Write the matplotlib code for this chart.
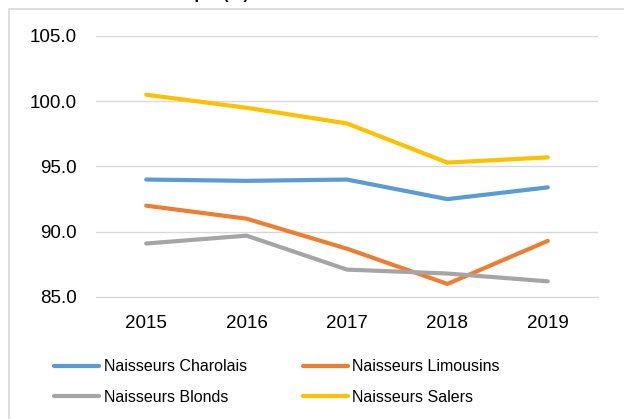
import matplotlib
matplotlib.use("Agg")
import matplotlib.pyplot as plt
from matplotlib.patches import Rectangle

# Data
years = ["2015", "2016", "2017", "2018", "2019"]
charolais = [94.0, 93.9, 94.0, 92.5, 93.4]
limousins = [92.0, 91.0, 88.7, 86.0, 89.3]
blonds = [89.1, 89.7, 87.1, 86.8, 86.2]
salers = [100.5, 99.5, 98.3, 95.3, 95.7]

series = [
    ("Naisseurs Charolais", charolais, "#5B9BD5"),
    ("Naisseurs Limousins", limousins, "#ED7D31"),
    ("Naisseurs Blonds", blonds, "#A5A5A5"),
    ("Naisseurs Salers", salers, "#FFC000"),
]

plt.rcParams['font.family'] = ['Liberation Sans', 'DejaVu Sans']

fig = plt.figure(figsize=(6.24, 4.19), dpi=100)

# chart border
fig.patches.append(Rectangle((9 / 624, -0.1), 1.2, 1 - 9 / 419 + 0.1,
                             transform=fig.transFigure, fill=False,
                             edgecolor='#D9D9D9', linewidth=1.2))

# title, mostly cut off by the top edge as in the original
fig.text(33 / 624, 1.0 - 2 / 419, "Productivité numérique (%)", fontsize=12,
         fontweight='bold', ha='left', va='bottom', color='#000000')

ax = fig.add_axes([96 / 624, 1 - 297 / 419, 502 / 624, (297 - 36) / 419])
x = list(range(len(years)))
lines = {}
for name, vals, col in series:
    lines[name], = ax.plot(x, vals, color=col, linewidth=3, label=name,
                           solid_capstyle='round')

ax.set_xlim(-0.5, len(years) - 0.5)
ax.set_ylim(85, 105)
ax.set_yticks([85, 90, 95, 100, 105])
ax.set_yticklabels([f"{v:.1f}" for v in [85, 90, 95, 100, 105]])
ax.set_xticks(x)
ax.set_xticklabels(years)
ax.tick_params(axis='both', length=0, labelsize=13.5, colors='#000000')
ax.tick_params(axis='y', pad=14)
ax.tick_params(axis='x', pad=13)
ax.grid(True, axis='y', color='#D9D9D9', linewidth=1)
ax.set_axisbelow(True)
for s in ['top', 'right', 'left']:
    ax.spines[s].set_visible(False)
ax.spines['bottom'].set_color('#D9D9D9')

# row-major order like the original legend
order = ["Naisseurs Charolais", "Naisseurs Blonds",
         "Naisseurs Limousins", "Naisseurs Salers"]
fig.legend([lines[n] for n in order], order,
           loc='upper left', bbox_to_anchor=(48 / 624, 1 - 353 / 419),
           ncol=2, frameon=False, fontsize=11.5, handlelength=2.8,
           handletextpad=0.3, columnspacing=3.5, labelspacing=0.95,
           borderaxespad=0)

fig.savefig("out.png", dpi=100)
